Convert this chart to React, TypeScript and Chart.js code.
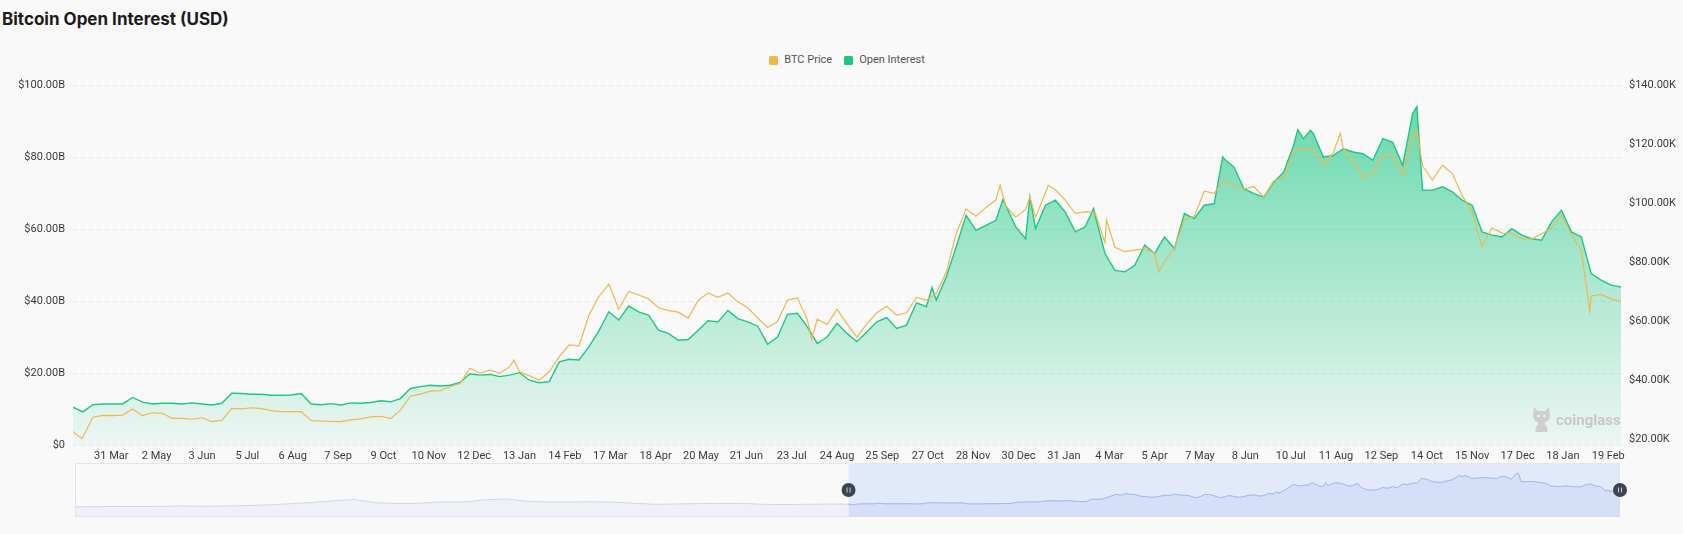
import React, { useEffect, useRef } from 'react';
import { Chart, registerables } from 'chart.js';

Chart.register(...registerables);

// ---------- data ----------
const START_DATE_UTC = Date.UTC(2023, 2, 4); // first weekly sample
const SAMPLE_STEP_DAYS = 7;
const FIRST_LABEL_DAY = 27; // 31 Mar 2023
const LABEL_STEP_DAYS = 32;
const LABEL_COUNT = 34;
const MONTHS = ['Jan', 'Feb', 'Mar', 'Apr', 'May', 'Jun', 'Jul', 'Aug', 'Sep', 'Oct', 'Nov', 'Dec'];

// Open interest, billions USD (weekly)
const openInterestB = [
  10.5, 9.2, 11.2, 11.4, 11.4, 11.4, 13.2, 11.9, 11.4, 11.6,
  11.6, 11.4, 11.7, 11.4, 11.1, 11.6, 14.4, 14.3, 14.1, 14.1,
  13.8, 13.8, 13.9, 14.3, 11.4, 11.2, 11.5, 11.1, 11.7, 11.6,
  11.8, 12.3, 12.0, 12.9, 15.7, 16.2, 16.6, 16.4, 16.6, 17.4,
  19.8, 19.4, 19.6, 19.0, 19.4, 20.1, 18.0, 17.3, 17.6, 23.1,
  23.8, 23.6, 27.3, 31.7, 37.0, 34.7, 38.6, 37.0, 36.1, 31.9,
  31.0, 29.1, 29.3, 31.9, 34.5, 34.2, 37.4, 35.1, 34.2, 33.0,
  28.0, 30.0, 36.3, 36.6, 32.8, 28.2, 30.0, 33.8, 31.0, 28.7,
  31.4, 34.2, 35.4, 32.4, 33.3, 39.5, 38.4, 40.2, 46.7, 55.0,
  63.8, 59.6, 61.0, 62.4, 66.6, 60.6, 57.3, 60.1, 66.6, 68.0,
  64.7, 59.2, 60.6, 63.8, 53.2, 48.5, 48.1, 49.9, 55.5, 53.2,
  57.8, 54.6, 64.3, 62.9, 66.6, 67.0, 79.5, 77.2, 71.2, 69.8,
  68.9, 73.0, 75.8, 83.2, 85.1, 86.5, 80.0, 80.4, 82.3, 81.4,
  80.9, 79.1, 85.1, 84.1, 77.7, 92.0, 70.8, 70.8, 71.7, 70.3,
  68.0, 66.6, 59.2, 58.3, 57.8, 60.1, 58.3, 57.3, 56.9, 61.9,
  65.2, 59.2, 57.8, 47.6, 45.8, 44.4, 43.9,
];
// extra OI readings at spikes (day offset from start, billions USD)
const extraOIDays = [606, 656, 675, 720, 811, 864, 873, 948];
const extraOIB = [43.7, 68.2, 68.9, 65.7, 80.0, 87.6, 87.4, 94.0];

// BTC price, thousands USD (weekly)
const btcPriceK = [
  22.5, 20.6, 27.4, 28.0, 27.9, 28.1, 30.2, 27.9, 28.9, 28.7,
  27.0, 27.0, 26.7, 27.2, 25.9, 26.3, 30.4, 30.2, 30.6, 30.3,
  29.6, 29.3, 29.3, 29.3, 26.2, 26.1, 26.0, 25.9, 26.5, 26.8,
  27.5, 27.7, 26.9, 29.8, 34.5, 35.2, 36.2, 36.4, 37.7, 38.8,
  44.0, 42.3, 43.4, 42.3, 44.5, 42.8, 41.4, 40.0, 42.8, 47.9,
  51.9, 51.6, 62.0, 68.3, 72.5, 64.0, 70.0, 68.8, 67.5, 64.5,
  63.5, 63.0, 61.0, 67.0, 69.5, 68.0, 69.5, 66.5, 64.5, 61.0,
  57.8, 59.8, 67.1, 67.8, 60.5, 60.6, 58.8, 64.0, 59.0, 54.5,
  59.0, 62.8, 65.0, 62.0, 62.8, 68.0, 67.1, 69.4, 76.6, 89.5,
  98.0, 95.5, 98.5, 101.0, 99.0, 95.3, 97.8, 95.2, 103.5, 104.5,
  101.0, 96.5, 97.0, 96.8, 86.5, 85.0, 83.5, 84.0, 84.5, 83.0,
  80.1, 84.8, 94.4, 95.5, 104.0, 103.3, 107.8, 105.5, 104.8, 105.5,
  102.1, 107.5, 108.3, 117.8, 118.5, 118.5, 112.8, 117.0, 118.5, 114.6,
  108.7, 110.4, 116.0, 116.2, 109.5, 122.6, 112.5, 107.8, 112.8, 110.0,
  102.5, 97.0, 85.2, 91.5, 89.8, 89.7, 87.8, 87.8, 89.6, 91.5,
  96.0, 89.4, 84.0, 68.5, 69.0, 67.5, 66.5,
];
// extra price readings at spikes (day offset from start, thousands USD)
const extraPriceDays = [6, 311, 521, 654, 675, 688, 729, 766, 894, 948, 1070];
const extraPriceK = [20.2, 46.8, 53.8, 106.0, 102.1, 106.0, 94.2, 76.7, 123.6, 124.7, 63.2];

// Slider (data zoom) history before the visible window: monthly OI, billions USD (Mar 2020 - Feb 2023)
const sliderHistoryOIB = [
  3.2, 3.6, 4.4, 4.0, 4.6, 5.6, 4.9, 5.4, 6.8, 8.5,
  11.5, 15.0, 19.5, 23.0, 14.5, 12.0, 13.0, 16.5, 16.0, 22.0, 24.5, 18.5,
  16.0, 16.5, 17.0, 16.0, 13.0, 10.0, 11.0, 12.0, 12.0, 12.8, 10.0, 9.5,
  10.0, 10.8,
];
const SLIDER_HISTORY_DAYS = 1095;

const leftTicksB = [0, 20, 40, 60, 80, 100];
const rightTicksK = [20, 40, 60, 80, 100, 120, 140];
const RIGHT_AXIS_MIN_K = 17.966;
const RIGHT_AXIS_MAX_K = 140;

// ---------- helpers ----------
const formatDay = (day: number) => {
  const d = new Date(START_DATE_UTC + day * 86400000);
  return `${d.getUTCDate()} ${MONTHS[d.getUTCMonth()]}`;
};
const lastDay = (openInterestB.length - 1) * SAMPLE_STEP_DAYS;
const labelDays = Array.from({ length: LABEL_COUNT }, (_, k) => FIRST_LABEL_DAY + k * LABEL_STEP_DAYS);

const mergeSeries = (weekly: number[], days: number[], vals: number[], offset = 0) => {
  const pts = weekly.map((v, i) => ({ x: offset + i * SAMPLE_STEP_DAYS, y: v }));
  days.forEach((d, i) => pts.push({ x: offset + d, y: vals[i] }));
  return pts.sort((a, b) => a.x - b.x);
};

const FONT = 'Roboto, "Noto Sans", sans-serif';

export default function App() {
  const mainRef = useRef<HTMLCanvasElement | null>(null);
  const sliderRef = useRef<HTMLCanvasElement | null>(null);

  useEffect(() => {
    if (!mainRef.current || !sliderRef.current) return;

    const tickFont = { family: FONT, size: 11 };

    const main = new Chart(mainRef.current, {
      type: 'line',
      data: {
        datasets: [
          {
            label: 'BTC Price',
            data: mergeSeries(btcPriceK, extraPriceDays, extraPriceK),
            yAxisID: 'yPrice',
            borderColor: '#eeb84c',
            borderWidth: 1.2,
            pointRadius: 0,
            fill: false,
            tension: 0,
          },
          {
            label: 'Open Interest',
            data: mergeSeries(openInterestB, extraOIDays, extraOIB),
            yAxisID: 'yOI',
            borderColor: '#1cc785',
            borderWidth: 1.4,
            pointRadius: 0,
            tension: 0,
            fill: 'start',
            backgroundColor: (ctx: any) => {
              const { chart } = ctx;
              const area = chart.chartArea;
              if (!area) return 'rgba(22,199,132,0.3)';
              const g = chart.ctx.createLinearGradient(0, area.top, 0, area.bottom);
              g.addColorStop(0, 'rgba(22,199,132,0.68)');
              g.addColorStop(1, 'rgba(22,199,132,0.05)');
              return g;
            },
          },
        ],
      },
      options: {
        responsive: false,
        animation: false,
        events: [],
        layout: { padding: { top: 85, left: 0, right: 0, bottom: 0 } },
        plugins: { legend: { display: false }, tooltip: { enabled: false }, title: { display: false } },
        scales: {
          x: {
            type: 'linear',
            min: 0,
            max: lastDay,
            afterBuildTicks: (s: any) => {
              s.ticks = labelDays.map((v) => ({ value: v }));
            },
            afterFit: (s: any) => {
              s.height = 25;
            },
            ticks: {
              autoSkip: false,
              maxRotation: 0,
              padding: 5,
              color: '#3a3a3a',
              font: tickFont,
              callback: (v: any) => formatDay(Number(v)),
            },
            grid: { display: false, drawTicks: false },
            border: { display: false },
          },
          yOI: {
            type: 'linear',
            position: 'left',
            min: 0,
            max: 100,
            afterBuildTicks: (s: any) => {
              s.ticks = leftTicksB.map((v) => ({ value: v }));
            },
            afterFit: (s: any) => {
              s.width = 73;
            },
            ticks: {
              padding: 8,
              color: '#3a3a3a',
              font: tickFont,
              callback: (v: any) => (Number(v) === 0 ? '$0' : `$${Number(v).toFixed(2)}B`),
            },
            grid: { color: '#e6e6e6', lineWidth: 1, drawTicks: false },
            border: { display: false, dash: [4, 4] },
          },
          yPrice: {
            type: 'linear',
            position: 'right',
            min: RIGHT_AXIS_MIN_K,
            max: RIGHT_AXIS_MAX_K,
            afterBuildTicks: (s: any) => {
              s.ticks = rightTicksK.map((v) => ({ value: v }));
            },
            afterFit: (s: any) => {
              s.width = 62;
            },
            ticks: {
              padding: 8,
              color: '#3a3a3a',
              font: tickFont,
              callback: (v: any) => `$${Number(v).toFixed(2)}K`,
            },
            grid: { drawOnChartArea: false, drawTicks: false },
            border: { display: false },
          },
        },
      },
    } as any);

    // ----- slider -----
    const historyPts = sliderHistoryOIB.map((v, i) => ({ x: (i * SLIDER_HISTORY_DAYS) / sliderHistoryOIB.length, y: v }));
    const windowPts = mergeSeries(openInterestB, extraOIDays, extraOIB, SLIDER_HISTORY_DAYS);
    const allVals = [...sliderHistoryOIB, ...openInterestB, ...extraOIB];
    const vMin = Math.min(...allVals);
    const vMax = Math.max(...allVals);
    const vPad = (vMax - vMin) * 0.3;
    const selStart = SLIDER_HISTORY_DAYS;
    const selEnd = SLIDER_HISTORY_DAYS + lastDay;

    const sliderDecor = {
      id: 'sliderDecor',
      beforeDatasetsDraw(chart: any) {
        const { ctx, chartArea, scales } = chart;
        const x0 = scales.x.getPixelForValue(selStart);
        const x1 = scales.x.getPixelForValue(selEnd);
        ctx.save();
        ctx.fillStyle = 'rgba(135,175,255,0.2)';
        ctx.fillRect(x0, chartArea.top, x1 - x0, chartArea.bottom - chartArea.top);
        ctx.strokeStyle = '#e1e6f3';
        ctx.lineWidth = 1;
        ctx.strokeRect(chartArea.left + 0.5, chartArea.top + 0.5, chartArea.right - chartArea.left - 1, chartArea.bottom - chartArea.top - 1);
        ctx.restore();
      },
      afterDraw(chart: any) {
        const { ctx, chartArea, scales } = chart;
        const cy = (chartArea.top + chartArea.bottom) / 2;
        [selStart, selEnd].forEach((d) => {
          const cx = scales.x.getPixelForValue(d);
          ctx.save();
          ctx.beginPath();
          ctx.arc(cx, cy, 7, 0, Math.PI * 2);
          ctx.fillStyle = '#3d4350';
          ctx.fill();
          ctx.strokeStyle = '#c9cfdc';
          ctx.lineWidth = 1;
          ctx.beginPath();
          ctx.moveTo(cx - 1.5, cy - 2.5);
          ctx.lineTo(cx - 1.5, cy + 2.5);
          ctx.moveTo(cx + 1.5, cy - 2.5);
          ctx.lineTo(cx + 1.5, cy + 2.5);
          ctx.stroke();
          ctx.restore();
        });
      },
    };

    const slider = new Chart(sliderRef.current, {
      type: 'line',
      data: {
        datasets: [
          {
            data: windowPts,
            borderColor: '#a3b8ee',
            borderWidth: 1,
            pointRadius: 0,
            fill: 'start',
            backgroundColor: 'rgba(143,176,247,0.12)',
            tension: 0,
          },
          {
            data: [...historyPts, ...windowPts],
            borderColor: '#cdd6ec',
            borderWidth: 1,
            pointRadius: 0,
            fill: 'start',
            backgroundColor: 'rgba(210,219,238,0.25)',
            tension: 0,
          },
        ],
      },
      options: {
        responsive: false,
        animation: false,
        events: [],
        layout: { padding: { left: 8, right: 10, top: 8, bottom: 8 } },
        plugins: { legend: { display: false }, tooltip: { enabled: false } },
        scales: {
          x: { type: 'linear', display: false, min: 0, max: selEnd },
          y: { type: 'linear', display: false, min: vMin - vPad, max: vMax + vPad },
        },
      },
      plugins: [sliderDecor],
    } as any);

    return () => {
      main.destroy();
      slider.destroy();
    };
  }, []);

  const legendItem = (color: string, text: string) => (
    <div style={{ display: 'flex', alignItems: 'center', marginRight: 12 }}>
      <span style={{ display: 'inline-block', width: 9, height: 9, background: color, borderRadius: 1.5, marginRight: 6 }} />
      <span style={{ fontFamily: FONT, fontSize: 11, color: '#555', lineHeight: '14px' }}>{text}</span>
    </div>
  );

  return (
    <div
      style={{
        position: 'absolute',
        left: 0,
        top: 0,
        width: 1683,
        height: 534,
        background: '#f9f9f9',
        overflow: 'hidden',
      }}
    >
      <div
        style={{
          position: 'absolute',
          left: 2,
          top: 8,
          fontFamily: 'Inter, "Noto Sans", sans-serif',
          fontWeight: 700,
          fontSize: 17,
          lineHeight: '22px',
          color: '#1b1b1b',
          whiteSpace: 'nowrap',
        }}
      >
        Bitcoin Open Interest (USD)
      </div>
      <div
        style={{
          position: 'absolute',
          left: 79,
          width: 1548,
          top: 53,
          height: 14,
          display: 'flex',
          justifyContent: 'center',
          alignItems: 'center',
        }}
      >
        {legendItem('#ecb94b', 'BTC Price')}
        {legendItem('#1ec47f', 'Open Interest')}
      </div>
      <canvas
        ref={mainRef}
        width={1683}
        height={470}
        style={{ position: 'absolute', left: 0, top: 0, width: 1683, height: 470 }}
      />
      <div
        style={{
          position: 'absolute',
          left: 1531,
          top: 406,
          display: 'flex',
          alignItems: 'center',
          pointerEvents: 'none',
        }}
      >
        <svg width="21" height="28" viewBox="0 0 21 28">
          <path
            d="M3 1 L7 5 L14 5 L18 1 L19 9 Q19 15 14 16.5 L14 19 Q17 20 16.5 26 L4.5 26 Q4 20 7 19 L7 16.5 Q2 15 2 9 Z"
            fill="#cfcfcf"
          />
          <circle cx="7.5" cy="10" r="1.3" fill="#f1f1f1" />
          <circle cx="13.5" cy="10" r="1.3" fill="#f1f1f1" />
        </svg>
        <span
          style={{
            marginLeft: 4,
            fontFamily: FONT,
            fontWeight: 700,
            fontSize: 15,
            color: '#c8c8c8',
            lineHeight: '20px',
          }}
        >
          coinglass
        </span>
      </div>
      <canvas
        ref={sliderRef}
        width={1563}
        height={70}
        style={{ position: 'absolute', left: 67, top: 455, width: 1563, height: 70 }}
      />
    </div>
  );
}
